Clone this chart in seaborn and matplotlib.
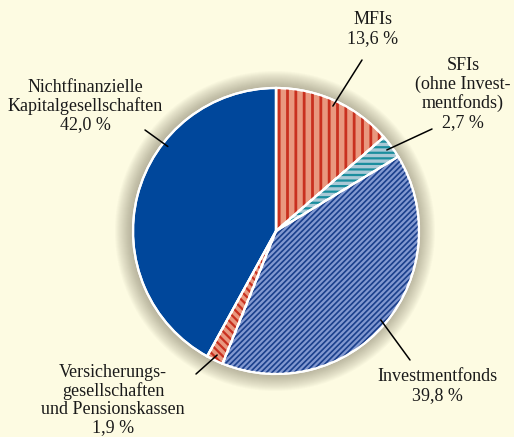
import matplotlib
matplotlib.use('Agg')
import matplotlib.pyplot as plt
import numpy as np
import seaborn as sns
from matplotlib.patches import Circle, Wedge

sns.set_theme(style='white')
plt.rcParams['font.family'] = ['Liberation Serif', 'DejaVu Serif']

# data
labels = ['MFIs', 'SFIs\n(ohne Invest-\nmentfonds)', 'Investmentfonds',
          'Versicherungs-\ngesellschaften\nund Pensionskassen',
          'Nichtfinanzielle\nKapitalgesellschaften']
values = [13.6, 2.7, 39.8, 1.9, 42.0]
value_labels = ['13,6 %', '2,7 %', '39,8 %', '1,9 %', '42,0 %']

fills = ['#e9987f', '#a9c9d6', '#8298d0', '#e9987f', '#00479b']
hatch_colors = ['#c9301f', '#1b8e9e', '#1a3f8c', '#c9301f', '#00479b']
hatches = ['||', '---', '//////', '\\\\\\\\', '']
hatch_widths = [2.0, 1.6, 1.2, 1.6, 1.0]

bg = '#fdfbe2'
W, H = 514, 437
cx, cy, r = 276, H - 231, 143

fig = plt.figure(figsize=(W / 100, H / 100), dpi=100, facecolor=bg)
ax = fig.add_axes([0, 0, 1, 1])
ax.set_facecolor(bg)

# soft shadow around the pie
for i in range(18):
    ax.add_patch(Circle((cx - 1, cy), r + 17 - i, color='#6b6450',
                        alpha=0.032, lw=0, zorder=0))

wedges, _ = ax.pie(values, center=(cx, cy), radius=r, startangle=90,
                   counterclock=False, colors=fills,
                   wedgeprops=dict(edgecolor='white', linewidth=1.6))
for w, hc, h, hw in zip(wedges, hatch_colors, hatches, hatch_widths):
    w.set_zorder(2)
    if h:
        with plt.rc_context({'hatch.linewidth': hw}):
            hp = Wedge(w.center, w.r, w.theta1, w.theta2, facecolor='none',
                       edgecolor=hc, hatch=h, linewidth=0, zorder=3)
        ax.add_patch(hp)
    ax.add_patch(Wedge(w.center, w.r, w.theta1, w.theta2,
                       facecolor='none', edgecolor='white',
                       linewidth=1.6, zorder=4))

ax.set_xlim(0, W)
ax.set_ylim(0, H)
ax.set_aspect('equal')
ax.axis('off')

# label positions (text centre, line end) in pixel space
text_pos = [(373, 29), (463, 94), (437, 386), (113, 400), (85, 106)]
line_end = [(362, 60), (432, 129), (410, 360), (196, 374), (145, 130)]
anchor_ang = [None, None, None, None, 142]

for i, w in enumerate(wedges):
    ang = anchor_ang[i] if anchor_ang[i] is not None else (w.theta1 + w.theta2) / 2
    px = cx + r * 0.96 * np.cos(np.radians(ang))
    py = cy + r * 0.96 * np.sin(np.radians(ang))
    ex, ey = line_end[i]
    ax.plot([px, ex], [py, H - ey], color='black', lw=1.1, zorder=5)
    tx, ty = text_pos[i]
    ax.text(tx, H - ty, labels[i] + '\n' + value_labels[i], ha='center',
            va='center', fontsize=13, color='#1a1a1a', linespacing=1.1,
            zorder=6)

fig.savefig('out.png', dpi=100, facecolor=bg)
